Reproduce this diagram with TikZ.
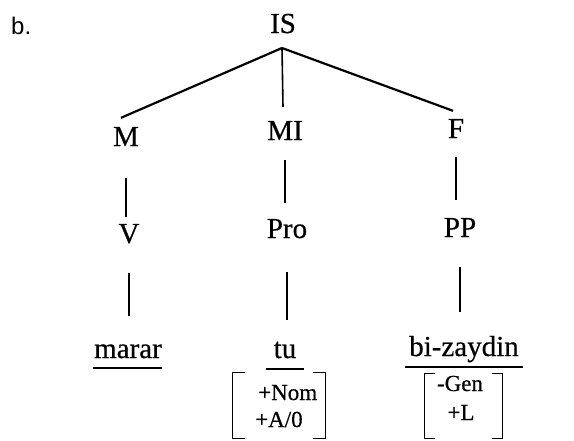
\documentclass[tikz,border=0pt]{standalone}
\usepackage{fontspec}
\setmainfont{Liberation Serif}[FakeBold=0.5]
\newfontfamily\labelsans{Liberation Sans}
\usetikzlibrary{calc}

\tikzset{
  cat/.style={inner sep=0pt, font=\fontsize{29}{32}\selectfont},
  feat/.style={inner sep=0pt, font=\fontsize{23}{25}\selectfont},
  branch/.style={line width=2.2pt},
  stem/.style={line width=1.6pt},
  bar/.style={line width=1.3pt},
  brk/.style={line width=1.3pt},
}

\begin{document}
\begin{tikzpicture}[x=1pt,y=-1pt]
  \useasboundingbox (0,0) rectangle (574,440);
  \node[anchor=base west, inner sep=0pt, font=\labelsans\fontsize{24}{26}\selectfont] (lbl) at (11,34) {b.};

  % top level
  \node[cat, anchor=base] (IS) at (283,33) {IS};
  \coordinate (ISfoot) at ([xshift=-1pt,yshift=-15pt]IS.base);
  \node[cat, anchor=base] (M) at (126,146) {M};
  \node[cat, anchor=base] (MI) at (285,140) {MI};
  \node[cat, anchor=base] (F) at (456,138) {F};
  \draw[branch] (ISfoot) -- ([xshift=-5pt,yshift=9pt]M.north);
  \draw[stem] (ISfoot) -- ([xshift=-2pt,yshift=14pt]MI.north);
  \draw[branch] (ISfoot) -- ([xshift=-3pt,yshift=8pt]F.north);

  % categories
  \node[cat, anchor=base] (V) at (129,243) {V};
  \node[cat, anchor=base] (Pro) at (287,238) {Pro};
  \node[cat, anchor=base] (PP) at (460,237) {PP};
  \draw[stem, shorten <=32pt, shorten >=7pt] (M.south) -- (M.south |- V.north);
  \draw[stem, shorten <=20pt, shorten >=16pt] (MI.south) -- (MI.south |- Pro.north);
  \draw[stem, shorten <=19pt, shorten >=18pt] (F.south) -- (F.south |- PP.north);

  % words
  \node[cat, anchor=base] (marar) at (128,358) {marar};
  \node[cat, anchor=base] (tu) at (285,358) {tu};
  \node[cat, anchor=base] (bizaydin) at (464,356) {bi-zaydin};
  \draw[stem, shorten <=29pt, shorten >=28pt] (V.south) -- (V.south |- marar.north);
  \draw[stem, shorten <=34pt, shorten >=21pt] (Pro.south) -- (Pro.south |- tu.north);
  \draw[stem, shorten <=30pt, shorten >=24pt] (PP.south) -- (PP.south |- bizaydin.north);
  \draw[bar] ([xshift=-1pt,yshift=-10pt]marar.base west) -- ([yshift=-10pt]marar.base east);
  \draw[bar] ([xshift=-19pt,yshift=-11pt]tu.base) -- ([xshift=19pt,yshift=-11pt]tu.base);
  \draw[bar] ([xshift=-4pt,yshift=-11pt]bizaydin.base west) -- ([xshift=4pt,yshift=-11pt]bizaydin.base east);

  % feature matrices
  \node[inner sep=0pt, minimum width=92pt, minimum height=65pt] (caseA) at (279,405.5) {};
  \node[feat, anchor=base west] (nom) at (258,400) {+Nom};
  \node[feat, anchor=base west] (azero) at (255,427) {+A/0};
  \draw[brk] ([xshift=12pt]caseA.north west) -- (caseA.north west) -- (caseA.south west) -- ([xshift=12pt]caseA.south west);
  \draw[brk] ([xshift=-12pt]caseA.north east) -- (caseA.north east) -- (caseA.south east) -- ([xshift=-12pt]caseA.south east);

  \node[inner sep=0pt, minimum width=77pt, minimum height=64pt] (caseB) at (463.5,406) {};
  \node[feat, anchor=base] (gen) at (460,391) {-Gen};
  \node[feat, anchor=base] (loc) at (461,420) {+L};
  \draw[brk] ([xshift=10pt]caseB.north west) -- (caseB.north west) -- (caseB.south west) -- ([xshift=10pt]caseB.south west);
  \draw[brk] ([xshift=-10pt]caseB.north east) -- (caseB.north east) -- (caseB.south east) -- ([xshift=-10pt]caseB.south east);
\end{tikzpicture}
\end{document}
